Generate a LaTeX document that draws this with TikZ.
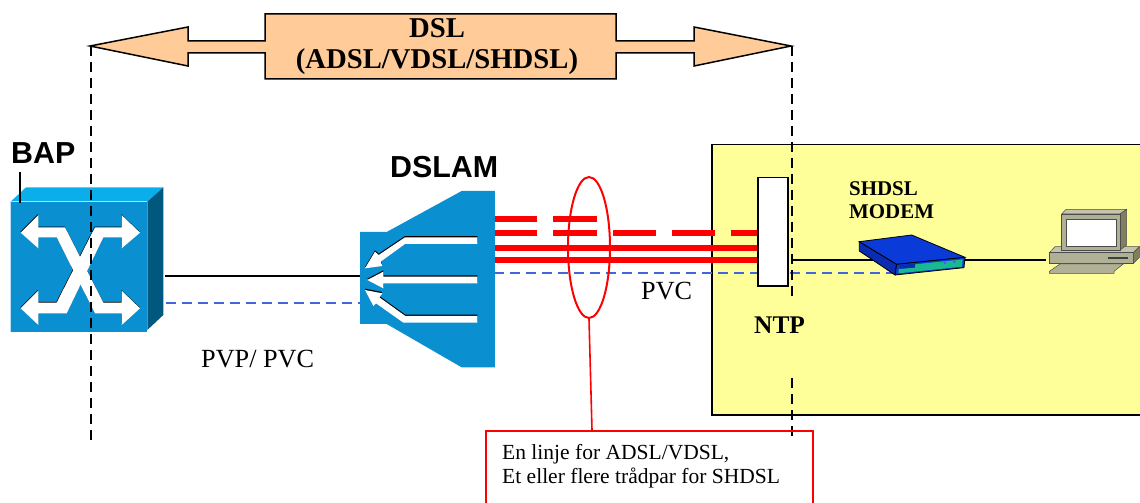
\documentclass[tikz,border=0pt]{standalone}
\usepackage{fontspec}
\setmainfont{Liberation Serif}
\newfontfamily\arialfont{Liberation Sans}
\usetikzlibrary{shapes.geometric}
\definecolor{ciscoblue}{HTML}{0A8FD0}
\definecolor{ciscotop}{HTML}{0AAEEA}
\definecolor{ciscoside}{HTML}{00587F}
\definecolor{peach}{HTML}{FFCC99}
\definecolor{paleyellow}{HTML}{FFFF99}
\definecolor{linkred}{HTML}{FF0000}
\definecolor{pvcblue}{HTML}{4466DD}
\definecolor{modemblue}{HTML}{0A3AD8}
\definecolor{modemdark}{HTML}{0A2CB0}
\definecolor{modemgreen}{HTML}{18B890}
\definecolor{pcfront}{HTML}{B0B096}
\definecolor{pctop}{HTML}{C4C4AC}
\definecolor{pcside}{HTML}{80805F}
\tikzset{
  x=1bp,y=-1bp,
  fiber/.style={draw=linkred,line width=5.5bp},
  pvcline/.style={draw=pvcblue,line width=2.4bp,dash pattern=on 10bp off 6bp},
  wire/.style={draw=black,line width=1.3bp},
  boundary/.style={draw=black,line width=2.4bp,dash pattern=on 10bp off 6bp},
  sanslabel/.style={font=\arialfont\bfseries\fontsize{30.5}{34}\selectfont,inner sep=0pt},
  seriflabel/.style={font=\fontsize{26.3}{30}\selectfont,inner sep=0pt},
  boldlabel/.style={font=\bfseries\fontsize{25.5}{30}\selectfont,inner sep=0pt},
  zoomed/.style={x=0.33333bp,y=-0.33333bp},
}
\newcommand{\baparrowA}[1]{\fill[#1] (62,308) -- (115,255) -- (115,292) -- (195,292) -- (310,518) -- (365,518) -- (365,482) -- (420,535) -- (365,585) -- (365,550) -- (285,550) -- (170,322) -- (115,322) -- (115,355) -- cycle;}
\newcommand{\baparrowB}[1]{\fill[#1] (62,535) -- (115,482) -- (115,518) -- (170,518) -- (285,292) -- (365,292) -- (365,255) -- (420,308) -- (365,355) -- (365,322) -- (310,322) -- (200,550) -- (115,550) -- (115,585) -- cycle;}
\newcommand{\dslamarrowA}[1]{\fill[#1] (382,262) -- (165,262) -- (86,315) -- (75,305) -- (45,355) -- (97,348) -- (92,335) -- (165,282) -- (382,282) -- cycle;}
\newcommand{\dslamarrowB}[1]{\fill[#1] (382,380) -- (100,380) -- (100,365) -- (52,390) -- (100,415) -- (100,400) -- (382,400) -- cycle;}
\newcommand{\dslamarrowC}[1]{\fill[#1] (382,498) -- (166,498) -- (88,442) -- (97,430) -- (45,420) -- (70,468) -- (78,460) -- (160,518) -- (382,518) -- cycle;}
\begin{document}
\begin{tikzpicture}
\useasboundingbox (0,0) rectangle (1140,503);
\clip (0,0) rectangle (1140,503);

% customer premises
\node[name=premises,anchor=north west,draw=black,line width=1.5bp,fill=paleyellow,minimum width=440bp,minimum height=270bp,inner sep=0pt] at (711,144) {};

% named connection points
\coordinate (bapE) at (165,276);
\coordinate (bapEb) at (150,303);
\coordinate (dslamW) at (360,276);
\coordinate (dslamWb) at (360,303);
\coordinate (dslamEa) at (494,219);
\coordinate (dslamEb) at (494,233);
\coordinate (dslamEc) at (494,248);
\coordinate (dslamEd) at (494,260);
\coordinate (dslamEe) at (494,273);
\coordinate (ntpWa) at (757,233);
\coordinate (ntpWc) at (757,248);
\coordinate (ntpWd) at (757,260);
\coordinate (ntpWe) at (757,273);
\coordinate (ntpE) at (791,260);
\coordinate (ntpEb) at (790,273);
\coordinate (modemW) at (895,260);
\coordinate (modemWb) at (895,273);
\coordinate (modemE) at (960,260);
\coordinate (pcW) at (1046,260);

% connectors
\draw[wire] (bapE) -- (dslamW);
\draw[pvcline] (bapEb) -- (dslamWb);
\draw[fiber] (dslamEa) -- (537,219);
\draw[fiber] (553,219) -- (597,219);
\draw[fiber] (dslamEb) -- (537,233);
\draw[fiber] (553,233) -- (597,233);
\draw[fiber] (613,233) -- (656,233);
\draw[fiber] (672,233) -- (715,233);
\draw[fiber] (731,233) -- (ntpWa);
\draw[fiber] (dslamEc) -- (ntpWc);
\draw[fiber] (dslamEd) -- (ntpWd);
\draw[pvcline] (dslamEe) -- (ntpWe);
\draw[wire] (ntpE) -- (modemW);
\draw[pvcline] (ntpEb) -- (modemWb);
\draw[wire] (modemE) -- (pcW);

% NTP
\node[name=ntp,anchor=north west,draw=black,line width=1.5bp,fill=white,minimum width=30bp,minimum height=108bp,inner sep=0pt] at (757,177) {};

% BAP switch
\begin{scope}[shift={(0,130)},zoomed]
  \fill[ciscotop] (32,215) -- (78,172) -- (490,172) -- (442,215) -- cycle;
  \fill[ciscoside] (442,215) -- (490,172) -- (490,555) -- (442,600) -- cycle;
  \fill[ciscoblue] (32,215) rectangle (442,605);
  \draw[white!70!ciscoblue,line width=.8bp] (32,605) -- (32,215) -- (442,215);
  \begin{scope}[shift={(-0.3bp,0.8bp)}]
    \baparrowA{black}
    \baparrowB{black}
  \end{scope}
  \baparrowA{white}
  \baparrowB{white}
\end{scope}

% DSLAM
\begin{scope}[shift={(350,150)},zoomed]
  \fill[ciscoblue] (30,246) -- (110,246) -- (335,123) -- (435,123) -- (435,652) -- (335,652) -- (110,522) -- (30,522) -- cycle;
  \begin{scope}[shift={(0bp,1.3bp)}]
    \dslamarrowA{black}
    \dslamarrowB{black}
    \dslamarrowC{black}
  \end{scope}
  \dslamarrowA{white}
  \dslamarrowB{white}
  \dslamarrowC{white}
\end{scope}

% Modem
\begin{scope}[shift={(850,225)},zoomed]
  \filldraw[draw=black,fill=modemdark,line width=.8bp] (28,50) -- (140,118) -- (135,150) -- (28,78) -- cycle;
  \filldraw[draw=black,fill=modemblue,line width=.8bp] (28,50) -- (185,30) -- (345,97) -- (140,118) -- cycle;
  \filldraw[draw=black,fill=modemblue,line width=.8bp] (140,118) -- (345,97) -- (342,128) -- (135,150) -- cycle;
  \fill[modemgreen] (195,118) -- (338,103) -- (336,125) -- (146,145) -- (146,132) -- (195,128) -- cycle;
  \fill[modemdark] (148,120) -- (195,116) -- (195,127) -- (148,131) -- cycle;
  \fill[pvcblue] (285,113) circle (5);
  \fill[pvcblue] (313,110) circle (5);
\end{scope}

% Computer
\begin{scope}[shift={(1040,200)},zoomed]
  \filldraw[draw=black!70,fill=pctop,line width=.5bp] (28,158) -- (45,140) -- (298,140) -- (280,158) -- cycle;
  \filldraw[draw=black!70,fill=pcfront,line width=.5bp] (28,158) rectangle (280,190);
  \filldraw[draw=black!70,fill=pcside,line width=.5bp] (280,158) -- (298,140) -- (298,172) -- (280,190) -- cycle;
  \fill[black!75] (203,170) rectangle (265,176);
  \filldraw[draw=black!70,fill=pcfront,line width=.5bp] (28,214) -- (60,192) -- (250,192) -- (222,214) -- (222,220) -- (28,220) -- cycle;
  \filldraw[draw=black!70,fill=pctop,line width=.5bp] (65,42) -- (78,28) -- (260,28) -- (240,42) -- cycle;
  \filldraw[draw=black!70,fill=pcside,line width=.5bp] (240,42) -- (260,28) -- (260,135) -- (240,150) -- cycle;
  \filldraw[draw=black!70,fill=pcfront,line width=.5bp] (65,42) rectangle (240,150);
  \filldraw[draw=black!70,fill=white,line width=.5bp] (80,58) rectangle (228,140);
\end{scope}

% DSL double arrow
\filldraw[draw=black,line width=1.5bp,fill=peach]
  (90,46) -- (188,27) -- (188,41) -- (265,41) -- (265,14) -- (616,14) -- (616,41) -- (694,41) -- (694,27) -- (791,46) -- (694,66) -- (694,53) -- (616,53) -- (616,79) -- (265,79) -- (265,53) -- (188,53) -- (188,66) -- cycle;
\node[name=dsltext,align=center,inner sep=0pt,font=\bfseries\fontsize{28.8}{32}\selectfont] at (437,46.5) {DSL\\(ADSL/VDSL/SHDSL)};

% Boundaries
\coordinate (leftTop) at (91,46);
\coordinate (leftBot) at (91,440);
\coordinate (rightTop) at (792,46);
\coordinate (rightGapA) at (792,298);
\coordinate (rightGapB) at (792,378);
\coordinate (rightBot) at (792,440);
\draw[boundary] (leftTop) -- (leftBot);
\draw[boundary] (rightTop) -- (rightGapA);
\draw[boundary] (rightGapB) -- (rightBot);

% Loop and callout
\node[name=loop,ellipse,draw=linkred,line width=2bp,minimum width=42bp,minimum height=141bp,inner sep=0pt] at (589,247.5) {};
\node[name=callout,anchor=north west,draw=linkred,line width=2bp,minimum width=327bp,minimum height=90bp,inner sep=0pt] at (485,430) {};
\coordinate (calloutIn) at (592,430);
\draw[draw=linkred,line width=1.6bp] (loop.south) -- (calloutIn);
\node[name=callouttext,anchor=north west,align=left,inner sep=0pt,font=\fontsize{21.6}{24.5}\selectfont] at (502,444) {En linje for ADSL/VDSL,\\Et eller flere trådpar for SHDSL};

% Labels
\coordinate (bapTick) at (20,172);
\coordinate (bapTickEnd) at (20,203);
\draw[draw=black,line width=1.2bp] (bapTick) -- (bapTickEnd);
\node[name=baplabel,sanslabel,anchor=west] at (11,153) {BAP};
\node[name=dslamlabel,sanslabel,anchor=west] at (390,167) {DSLAM};
\node[name=shdsllabel,anchor=north west,align=left,inner sep=0pt,font=\bfseries\fontsize{21}{24}\selectfont] at (849,181) {SHDSL\\MODEM};
\node[name=ntplabel,boldlabel,anchor=west] at (754,325) {NTP};
\node[name=pvclabel,seriflabel,anchor=west] at (641,291) {PVC};
\node[name=pvplabel,seriflabel,anchor=west] at (201,359) {PVP/ PVC};
\end{tikzpicture}
\end{document}
